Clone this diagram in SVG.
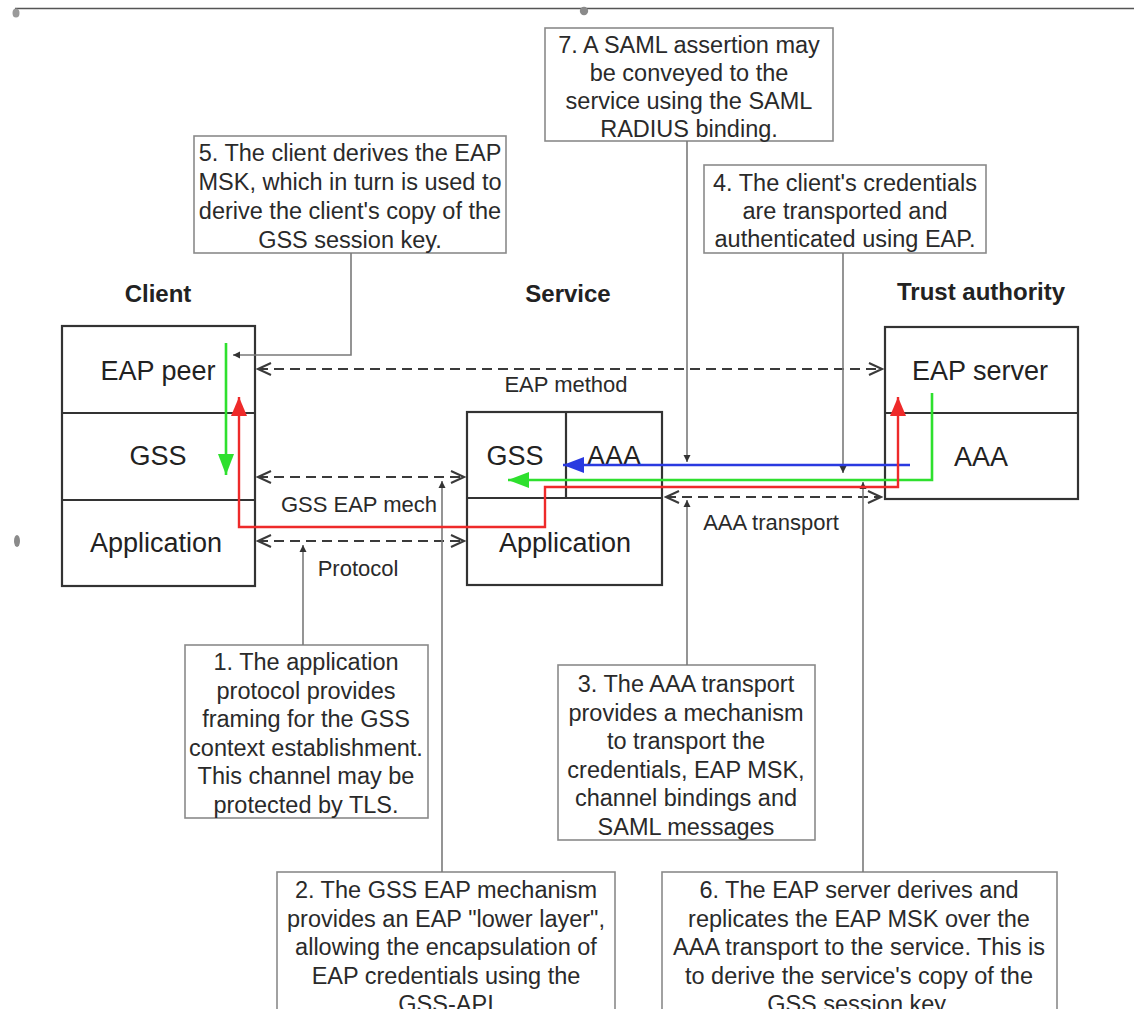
<svg xmlns="http://www.w3.org/2000/svg" width="1134" height="1009" viewBox="0 0 1134 1009">
<style>
.bg{fill:#ffffff}
.node{fill:#ffffff;stroke:#333333;stroke-width:2.2}
.div{stroke:#333333;stroke-width:2.2;fill:none}
.note{fill:#ffffff;stroke:#8a8a8a;stroke-width:1.6}
.lbl{font-family:"Liberation Sans",Arial,Helvetica,sans-serif;font-size:27px;fill:#222222;text-anchor:middle}
.hdr{font-family:"Liberation Sans",Arial,Helvetica,sans-serif;font-size:24px;font-weight:bold;fill:#222222;text-anchor:middle}
.ntxt{font-family:"Liberation Sans",Arial,Helvetica,sans-serif;font-size:23.5px;fill:#2a2a2a;text-anchor:middle}
.clbl{font-family:"Liberation Sans",Arial,Helvetica,sans-serif;font-size:22px;fill:#2a2a2a;text-anchor:middle}
.dash{fill:none;stroke:#3a3a3a;stroke-width:2;stroke-dasharray:10,6;marker-start:url(#open);marker-end:url(#open)}
.lead{fill:none;stroke:#7a7a7a;stroke-width:1.6;marker-end:url(#tiny)}
.green{fill:none;stroke:#2ee02e;stroke-width:2.6}
.red{fill:none;stroke:#ee2a2a;stroke-width:2.4}
.blue{fill:none;stroke:#2a3ae0;stroke-width:2.4}
</style>
<defs>
<marker id="open" markerUnits="userSpaceOnUse" markerWidth="16" markerHeight="14" refX="14" refY="7" orient="auto-start-reverse" viewBox="0 0 16 14">
<path d="M1,1 L14,7 L1,13" fill="none" stroke="#3a3a3a" stroke-width="2"/>
</marker>
<marker id="tiny" markerUnits="userSpaceOnUse" markerWidth="8" markerHeight="8" refX="7" refY="4" orient="auto" viewBox="0 0 8 8">
<path d="M0,0.5 L7,4 L0,7.5 z" fill="#333333"/>
</marker>
<marker id="ahG" markerUnits="userSpaceOnUse" markerWidth="22" markerHeight="16" refX="21" refY="8" orient="auto-start-reverse" viewBox="0 0 22 16">
<path d="M0,0 L21,8 L0,16 z" fill="#2ee02e"/>
</marker>
<marker id="ahR" markerUnits="userSpaceOnUse" markerWidth="20" markerHeight="16" refX="19" refY="8" orient="auto-start-reverse" viewBox="0 0 20 16">
<path d="M0,0 L19,8 L0,16 z" fill="#ee2a2a"/>
</marker>
<marker id="ahB" markerUnits="userSpaceOnUse" markerWidth="22" markerHeight="16" refX="21" refY="8" orient="auto-start-reverse" viewBox="0 0 22 16">
<path d="M0,0 L21,8 L0,16 z" fill="#2a3ae0"/>
</marker>
</defs>
<rect class="bg" x="0" y="0" width="1134" height="1009"/>

<g id="frame">
<line x1="15" y1="8.5" x2="1134" y2="8.5" stroke="#555555" stroke-width="1.6"/>
<circle cx="584" cy="11" r="4.2" fill="#8a8a8a"/>
<ellipse cx="16" cy="13" rx="3.5" ry="4.5" fill="#9a9a9a"/>
<ellipse cx="17" cy="541" rx="3" ry="6" fill="#8a8a8a"/>
</g>

<g id="headers">
<text class="hdr" x="158" y="302">Client</text>
<text class="hdr" x="568" y="302">Service</text>
<text class="hdr" x="981" y="300">Trust authority</text>
</g>

<g id="client">
<rect class="node" x="62" y="326" width="193" height="260"/>
<line class="div" x1="62" y1="413" x2="255" y2="413"/>
<line class="div" x1="62" y1="500" x2="255" y2="500"/>
<text class="lbl" x="158" y="380">EAP peer</text>
<text class="lbl" x="158" y="465">GSS</text>
<text class="lbl" x="156" y="552">Application</text>
</g>

<g id="service">
<rect class="node" x="467" y="412" width="195" height="173"/>
<line class="div" x1="467" y1="498" x2="662" y2="498"/>
<line class="div" x1="566" y1="412" x2="566" y2="498"/>
<text class="lbl" x="515" y="465">GSS</text>
<text class="lbl" x="614" y="465">AAA</text>
<text class="lbl" x="565" y="552">Application</text>
</g>

<g id="trust">
<rect class="node" x="885" y="327" width="193" height="172"/>
<line class="div" x1="885" y1="413" x2="1078" y2="413"/>
<text class="lbl" x="980" y="380">EAP server</text>
<text class="lbl" x="981" y="466">AAA</text>
</g>

<g id="note7">
<rect class="note" x="545" y="28" width="288" height="113"/>
<text class="ntxt" x="689" y="53">7. A SAML assertion may</text>
<text class="ntxt" x="689" y="81">be conveyed to the</text>
<text class="ntxt" x="689" y="109">service using the SAML</text>
<text class="ntxt" x="689" y="137">RADIUS binding.</text>
</g>

<g id="note5">
<rect class="note" x="194" y="136" width="312" height="117"/>
<text class="ntxt" x="350" y="161">5. The client derives the EAP</text>
<text class="ntxt" x="350" y="190">MSK, which in turn is used to</text>
<text class="ntxt" x="350" y="219">derive the client's copy of the</text>
<text class="ntxt" x="350" y="248">GSS session key.</text>
</g>

<g id="note4">
<rect class="note" x="704" y="165" width="282" height="88"/>
<text class="ntxt" x="845" y="191">4. The client's credentials</text>
<text class="ntxt" x="845" y="219">are transported and</text>
<text class="ntxt" x="845" y="247">authenticated using EAP.</text>
</g>

<g id="note1">
<rect class="note" x="185" y="645" width="243" height="173"/>
<text class="ntxt" x="306" y="670">1. The application</text>
<text class="ntxt" x="306" y="699">protocol provides</text>
<text class="ntxt" x="306" y="727">framing for the GSS</text>
<text class="ntxt" x="306" y="756">context establishment.</text>
<text class="ntxt" x="306" y="784">This channel may be</text>
<text class="ntxt" x="306" y="813">protected by TLS.</text>
</g>

<g id="note3">
<rect class="note" x="558" y="665" width="257" height="175"/>
<text class="ntxt" x="686" y="692">3. The AAA transport</text>
<text class="ntxt" x="686" y="721">provides a mechanism</text>
<text class="ntxt" x="686" y="749">to transport the</text>
<text class="ntxt" x="686" y="778">credentials, EAP MSK,</text>
<text class="ntxt" x="686" y="806">channel bindings and</text>
<text class="ntxt" x="686" y="835">SAML messages</text>
</g>

<g id="note2">
<rect class="note" x="277" y="872" width="338" height="150"/>
<text class="ntxt" x="446" y="898">2. The GSS EAP mechanism</text>
<text class="ntxt" x="446" y="927">provides an EAP "lower layer",</text>
<text class="ntxt" x="446" y="955">allowing the encapsulation of</text>
<text class="ntxt" x="446" y="984">EAP credentials using the</text>
<text class="ntxt" x="446" y="1012">GSS-API</text>
</g>

<g id="note6">
<rect class="note" x="662" y="872" width="395" height="150"/>
<text class="ntxt" x="859" y="898">6. The EAP server derives and</text>
<text class="ntxt" x="859" y="927">replicates the EAP MSK over the</text>
<text class="ntxt" x="859" y="955">AAA transport to the service. This is</text>
<text class="ntxt" x="859" y="984">to derive the service's copy of the</text>
<text class="ntxt" x="859" y="1012">GSS session key.</text>
</g>

<g id="connectors">
<path class="dash" d="M258,369 L882,369"/>
<path class="dash" d="M258,477 L464,477"/>
<path class="dash" d="M258,541 L464,541"/>
<path class="dash" d="M666,497 L881,497"/>
<text class="clbl" x="566" y="392">EAP method</text>
<text class="clbl" x="359" y="512">GSS EAP mech</text>
<text class="clbl" x="358" y="576">Protocol</text>
<text class="clbl" x="771" y="530">AAA transport</text>

<path class="lead" d="M351,253 L351,355 L233,355"/>
<path class="lead" d="M687,141 L687,462"/>
<path class="lead" d="M843,253 L843,473"/>
<path class="lead" d="M303,645 L303,545"/>
<path class="lead" d="M442,872 L442,481"/>
<path class="lead" d="M687,665 L687,500"/>
<path class="lead" d="M863,872 L863,482"/>

<path class="blue" d="M910,465 L563,465" marker-end="url(#ahB)"/>
<path class="green" d="M932,393 L932,480 L508,480" marker-end="url(#ahG)"/>
<path class="green" d="M226,343 L226,475" marker-end="url(#ahG)"/>
<path class="red" d="M239,397 L239,527 L545,527 L545,487 L898,487 L898,397" marker-start="url(#ahR)" marker-end="url(#ahR)"/>
</g>
</svg>
